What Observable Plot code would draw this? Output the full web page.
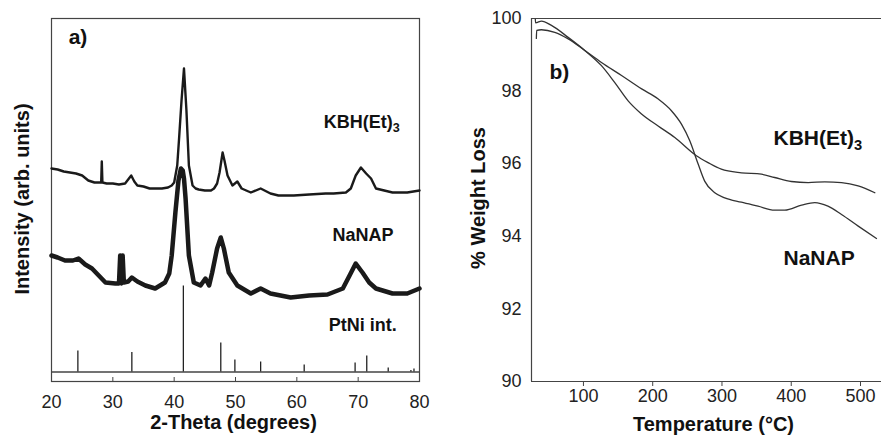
<!DOCTYPE html>
<html><head><meta charset="utf-8">
<script src="https://cdn.jsdelivr.net/npm/d3@7"></script>
<script src="https://cdn.jsdelivr.net/npm/@observablehq/plot@0.6"></script>
<style>
html,body{margin:0;padding:0;background:#fff;}
#wrap{display:flex;width:882px;height:437px;overflow:hidden;}
#wrap > div{width:441px;height:437px;}
svg{display:block}
</style></head><body><div id="wrap"><div id="a"></div><div id="b"></div></div>
<script>
// ---------- Panel a) XRD: [2-theta (deg), intensity (arb. units)] ----------
const kbhXRD = [
  [20,213],[21,212],[22,210],[23,209],[24,208],[25,206],[26,201],[27,199],[28,199],[28.1,199],[28.2,220],[28.3,199],
  [29,198],[30,198],[31,197],[32,198],[33,206],[33.5,200],[34,196],[35,195],[36,193],[37,193],[38,193],[39,194],
  [39.6,196],[40,199],[40.5,216],[40.8,243],[41.2,281],[41.6,313],[42.0,271],[42.4,216],[43,196],[43.5,193],[44,192],
  [45,191],[46,191],[46.5,193],[47,198],[47.4,209],[47.9,229],[48.2,221],[48.7,206],[49.5,196],[50.3,200],[51,193],
  [52.5,189],[54.1,193],[55.7,188],[57,186],[59.5,186],[62,187],[64.7,188],[66,188],[68,189],[68.8,193],[69.6,206],
  [70.45,214],[71.3,208],[72.1,203],[72.9,193],[75.6,189],[78,189],[80,191]
];
const nanapXRD = [
  [20,126],[21,124],[22.2,121],[23.5,121],[24.4,123],[25.5,117],[26.6,113],[27.7,106],[28.8,99],[30.4,98],[31.0,98],
  [31.2,126],[31.4,98],[31.6,126],[31.8,99],[32.5,100],[33.1,104],[34,100],[35.3,96],[36.9,93],[38.5,99],[39.2,108],
  [39.6,126],[40.2,169],[40.7,201],[41.1,213],[41.4,211],[41.6,203],[41.86,183],[42.4,126],[43.2,99],[44.3,96],
  [45.1,103],[45.7,96],[46.2,109],[47.0,133],[47.6,144],[48.1,133],[48.9,109],[50.3,96],[52.5,88],[54.1,93],[55.7,88],
  [59,84],[62,86],[65,87],[67.5,93],[68.6,106],[69.6,118],[70.7,109],[71.8,99],[72.9,93],[75.6,88],[78,88],[80,93]
];
// PtNi intermetallic reference pattern: [2-theta, stick height]
const stickBase = 9.5;
const ptniSticks = [[24.3,21],[33.1,19.5],[41.5,86],[47.6,29],[49.9,12],[54.1,10],[61.2,7],[69.5,9],[71.4,16],[74.9,4],[78.6,1.5],[79.1,3]];
const xTicksA = [20,30,40,50,60,70,80];

// ---------- Panel b) TGA: [temperature (°C), % weight] ----------
const kbhTGA = [
  [30.5,99.98],[31,99.88],[39.4,99.93],[53.8,99.81],[77.9,99.48],[101.9,99.12],[126,98.70],[145,98.24],[164.5,97.73],
  [183.8,97.37],[207.8,97.04],[231.9,96.72],[263,96.22],[280,96.03],[299,95.85],[328,95.75],[357,95.71],[376,95.62],
  [400,95.51],[424.5,95.48],[448.5,95.50],[472.6,95.48],[496.6,95.39],[520.7,95.2]
];
const nanapTGA = [
  [32,99.45],[32.5,99.67],[39.4,99.69],[58.6,99.62],[78,99.44],[102,99.12],[126,98.79],[155,98.43],[184,98.06],
  [208,97.78],[227,97.46],[241.5,97.09],[253.5,96.63],[265.6,95.99],[275,95.52],[289.6,95.2],[304,95.06],[328,94.94],
  [352,94.83],[376,94.72],[390.7,94.72],[415,94.86],[434,94.93],[453,94.83],[472.6,94.6],[496.7,94.28],[523,93.94]
];
const xTicksB = [100,200,300,400,500];
const yTicksB = [90,92,94,96,98,100];
const xDomainB = [25, 530.3];
const yDomainB = [90, 100];

const FONT = "'Liberation Sans', Arial, Helvetica, sans-serif";
const INK = "#1a1a1a";
const AXIS = "#444";

const plotA = Plot.plot({
  width: 441, height: 437, marginLeft: 51, marginRight: 22, marginTop: 18, marginBottom: 56,
  style: {fontFamily: FONT, fontSize: "18px", color: "#222", background: "#fff", overflow: "visible"},
  x: {domain: [20, 80]},
  y: {domain: [0, 363], axis: null},
  marks: [
    Plot.frame({stroke: AXIS, strokeWidth: 1.2}),
    Plot.axisX(xTicksA, {tickSize: 0, tickPadding: 14, label: null, fontSize: 18}),
    Plot.ruleX(xTicksA, {y1: 0, y2: 4, stroke: AXIS, strokeWidth: 1}),
    Plot.ruleY([stickBase], {stroke: AXIS, strokeWidth: 1.6}),
    Plot.ruleX(ptniSticks, {x: d => d[0], y1: stickBase, y2: d => stickBase + d[1], stroke: "#222", strokeWidth: 1.3}),
    Plot.line(nanapXRD, {x: d => d[0], y: d => d[1], stroke: INK, strokeWidth: 4.5, strokeLinejoin: "round"}),
    Plot.line(kbhXRD, {x: d => d[0], y: d => d[1], stroke: INK, strokeWidth: 2.4, strokeLinejoin: "round"}),
    Plot.text(["a)"], {x: 22.8, y: 344, textAnchor: "start", lineAnchor: "middle", fontWeight: "bold", fontSize: 21, fill: "#111"}),
    Plot.text(["KBH(Et)3"], {x: 64.4, y: 259, textAnchor: "start", lineAnchor: "middle", fontWeight: "bold", fontSize: 18, fill: "#111"}),
    Plot.text(["NaNAP"], {x: 65.8, y: 146, textAnchor: "start", lineAnchor: "middle", fontWeight: "bold", fontSize: 18, fill: "#111"}),
    Plot.text(["PtNi int."], {x: 65.2, y: 56, textAnchor: "start", lineAnchor: "middle", fontWeight: "bold", fontSize: 18, fill: "#111"}),
    Plot.text(["Intensity (arb. units)"], {frameAnchor: "left", dx: -29, dy: -1, rotate: -90, textAnchor: "middle", lineAnchor: "middle", fontWeight: "bold", fontSize: 20, fill: "#111"}),
    Plot.text(["2-Theta (degrees)"], {frameAnchor: "bottom", dy: 41, dx: -2, textAnchor: "middle", lineAnchor: "middle", fontWeight: "bold", fontSize: 20, fill: "#111"})
  ]
});

const plotB = Plot.plot({
  width: 441, height: 437, marginLeft: 90, marginRight: 1, marginTop: 18, marginBottom: 56,
  style: {fontFamily: FONT, fontSize: "18px", color: "#222", background: "#fff", overflow: "visible"},
  x: {domain: xDomainB},
  y: {domain: yDomainB},
  marks: [
    Plot.ruleY([yDomainB[1]], {stroke: AXIS, strokeWidth: 1.2}),
    Plot.ruleY([yDomainB[0]], {stroke: AXIS, strokeWidth: 1.2}),
    Plot.ruleX([xDomainB[0]], {stroke: AXIS, strokeWidth: 1.2}),
    Plot.axisX(xTicksB, {tickSize: 5, tickPadding: 3, label: null, stroke: AXIS}),
    Plot.axisY(yTicksB, {tickSize: 0, tickPadding: 10, label: null}),
    Plot.line(nanapTGA, {x: d => d[0], y: d => d[1], stroke: "#333", strokeWidth: 1.3, curve: "monotone-x"}),
    Plot.line(kbhTGA, {x: d => d[0], y: d => d[1], stroke: "#333", strokeWidth: 1.3, curve: "monotone-x"}),
    Plot.text(["b)"], {x: 50.9, y: 98.51, textAnchor: "start", lineAnchor: "middle", fontWeight: "bold", fontSize: 21, fill: "#111"}),
    Plot.text(["KBH(Et)3"], {x: 374.4, y: 96.69, textAnchor: "start", lineAnchor: "middle", fontWeight: "bold", fontSize: 21, fill: "#111"}),
    Plot.text(["NaNAP"], {x: 388.8, y: 93.4, textAnchor: "start", lineAnchor: "middle", fontWeight: "bold", fontSize: 21, fill: "#111"}),
    Plot.text(["% Weight Loss"], {frameAnchor: "left", dx: -53, dy: -2, rotate: -90, textAnchor: "middle", lineAnchor: "middle", fontWeight: "bold", fontSize: 20, fill: "#111"}),
    Plot.text(["Temperature (°C)"], {frameAnchor: "bottom", dy: 43, dx: 7, textAnchor: "middle", lineAnchor: "middle", fontWeight: "bold", fontSize: 20, fill: "#111"})
  ]
});

function subscript(svg) {
  d3.select(svg).selectAll("text").each(function() {
    if (this.textContent === "KBH(Et)3") {
      const t = d3.select(this);
      t.text("KBH(Et)");
      t.append("tspan").attr("dy", "0.3em").attr("font-size", "0.7em").text("3");
    }
  });
}
subscript(plotA);
subscript(plotB);
document.getElementById("a").append(plotA);
document.getElementById("b").append(plotB);
</script></body></html>
